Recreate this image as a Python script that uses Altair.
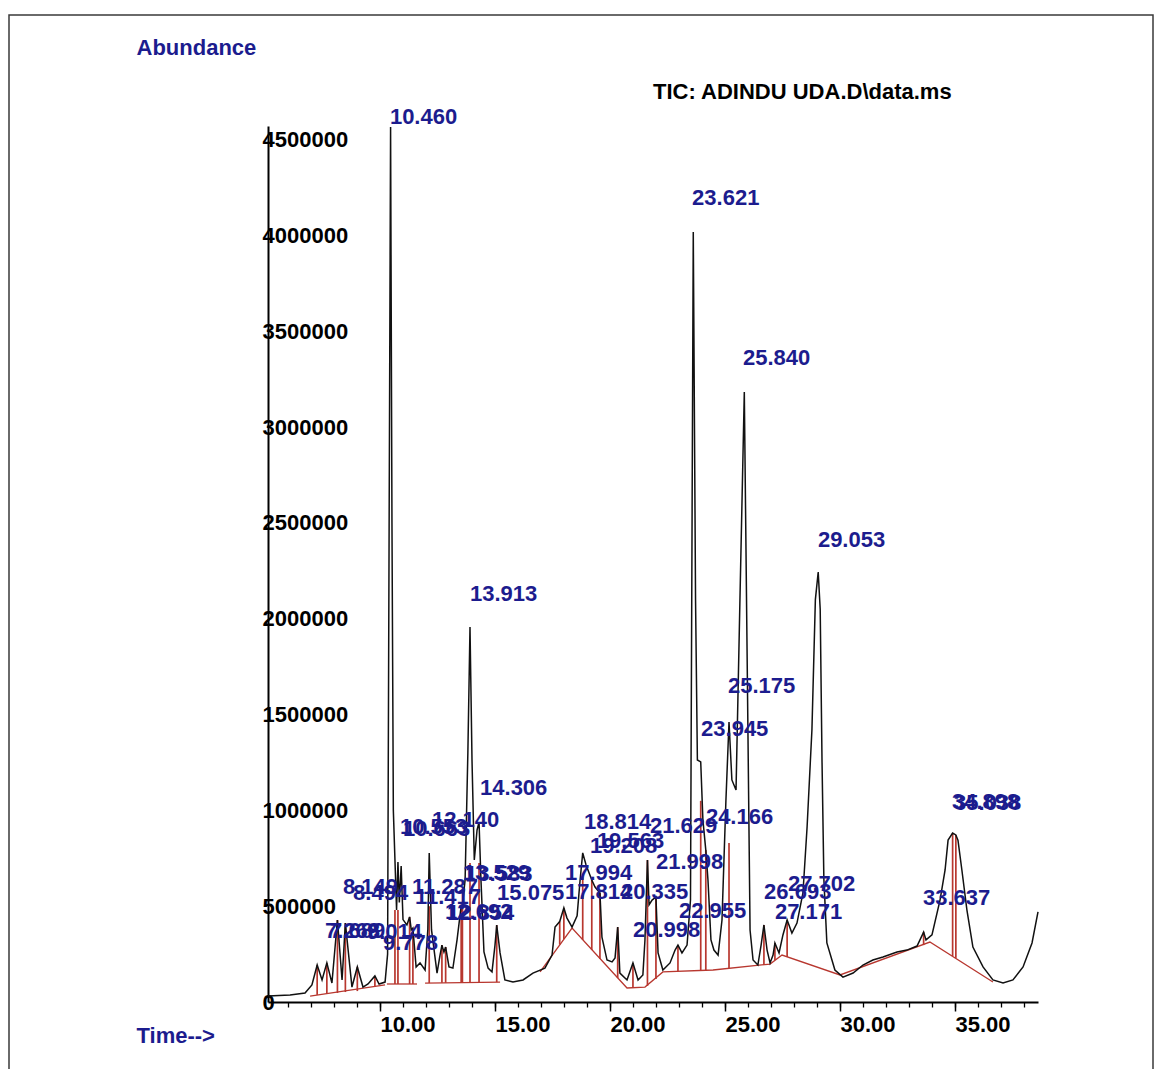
import altair as alt
import pandas as pd

# ---------------- data ----------------
trace_time = [5.13, 6.09, 6.74, 7.04, 7.268, 7.48, 7.689, 7.91, 8.149, 8.35, 8.494, 8.78,
              9.014, 9.26, 9.48, 9.778, 9.96, 10.22, 10.33, 10.40, 10.46, 10.52, 10.58,
              10.65, 10.72, 10.78, 10.84, 10.92, 11.00, 11.17, 11.287, 11.36, 11.43, 11.57,
              11.74, 11.96, 12.08, 12.14, 12.24, 12.48, 12.61, 12.692, 12.78, 12.854, 13.00,
              13.17, 13.35, 13.529, 13.583, 13.70, 13.82, 13.913, 14.00, 14.10, 14.22, 14.306,
              14.39, 14.52, 14.70, 14.87, 15.00, 15.075, 15.22, 15.43, 15.78, 16.22, 16.65,
              17.17, 17.48, 17.61, 17.814, 17.994, 18.13, 18.35, 18.57, 18.70, 18.814, 18.96,
              19.208, 19.35, 19.563, 19.65, 19.87, 20.09, 20.22, 20.335, 20.43, 20.74, 20.998,
              21.22, 21.43, 21.52, 21.629, 21.70, 21.83, 21.998, 22.09, 22.30, 22.61, 22.83,
              22.955, 23.13, 23.35, 23.50, 23.621, 23.72, 23.80, 23.945, 24.04, 24.166, 24.26,
              24.39, 24.52, 24.70, 24.87, 25.04, 25.175, 25.30, 25.48, 25.65, 25.84, 25.96,
              26.09, 26.22, 26.43, 26.57, 26.693, 26.83, 26.96, 27.09, 27.171, 27.35, 27.52,
              27.702, 27.91, 28.13, 28.39, 28.57, 28.78, 28.93, 29.053, 29.14, 29.22, 29.30,
              29.43, 29.78, 30.13, 30.57, 31.00, 31.43, 31.87, 32.48, 32.91, 33.35, 33.637,
              33.74, 34.00, 34.35, 34.57, 34.70, 34.898, 35.038, 35.13, 35.30, 35.52, 35.78,
              36.22, 36.65, 37.09, 37.52, 37.96, 38.35, 38.61]
trace_abund = [31000, 37000, 47000, 89000, 193000, 115000, 204000, 99000, 428000, 115000, 412000, 78000,
               183000, 78000, 94000, 136000, 94000, 104000, 250000, 2600000, 4567000, 2500000, 1000000,
               741000, 480000, 731000, 520000, 710000, 430000, 402000, 444000, 376000, 386000, 183000,
               204000, 167000, 380000, 778000, 376000, 151000, 245000, 297000, 261000, 287000, 183000,
               177000, 324000, 501000, 506000, 637000, 1300000, 1957000, 1263000, 741000, 898000, 939000,
               637000, 261000, 177000, 157000, 297000, 402000, 256000, 115000, 104000, 115000, 151000,
               177000, 245000, 391000, 420000, 491000, 438000, 391000, 450000, 637000, 778000, 715000,
               637000, 600000, 569000, 339000, 219000, 209000, 230000, 391000, 151000, 115000, 204000,
               115000, 141000, 324000, 741000, 507000, 532000, 548000, 256000, 167000, 204000, 271000,
               297000, 256000, 297000, 532000, 4019000, 2098000, 1263000, 1253000, 950000, 793000, 637000,
               324000, 271000, 245000, 428000, 1050000, 1461000, 1159000, 1106000, 2098000, 3184000, 1837000,
               376000, 219000, 193000, 297000, 402000, 271000, 204000, 245000, 308000, 256000, 350000,
               428000, 360000, 412000, 569000, 913000, 1420000, 2100000, 2244000, 2050000, 1250000, 640000,
               308000, 167000, 130000, 151000, 193000, 219000, 235000, 261000, 271000, 292000, 365000,
               324000, 350000, 532000, 689000, 845000, 882000, 872000, 845000, 689000, 480000, 287000,
               183000, 115000, 99000, 115000, 183000, 308000, 470000]

baseline_seg = ["a", "a", "b", "b", "c", "c",
                "d", "d", "d", "d", "d", "d", "d", "d", "d", "d", "d"]
baseline_time = [6.96, 10.22, 10.30, 11.61, 11.96, 15.22,
                 16.96, 18.35, 20.74, 21.52, 22.30, 24.48, 26.96, 27.48, 30.00, 33.91, 36.65]
baseline_abund = [31000, 89000, 94000, 94000, 99000, 104000,
                  157000, 386000, 73000, 78000, 157000, 167000, 198000, 245000, 141000, 313000, 104000]

peak_labels = ["7.268", "7.689", "8.149", "8.494", "9.014", "9.778", "10.460", "10.553", "10.663",
               "11.287", "11.417", "12.140", "12.692", "12.854", "13.529", "13.583", "13.913",
               "14.306", "15.075", "17.814", "17.994", "18.814", "19.208", "19.563", "20.335",
               "20.998", "21.629", "21.998", "22.955", "23.621", "23.945", "24.166", "25.175",
               "25.840", "26.693", "27.171", "27.702", "29.053", "33.637", "34.898", "35.038"]
peak_time = [7.268, 7.689, 8.149, 8.494, 9.014, 9.778, 10.46, 10.65, 10.78,
             11.287, 11.43, 12.14, 12.692, 12.854, 13.529, 13.583, 13.913,
             14.306, 15.075, 17.814, 17.994, 18.814, 19.208, 19.563, 20.335,
             20.998, 21.629, 21.998, 22.955, 23.621, 23.945, 24.166, 25.175,
             25.84, 26.693, 27.171, 27.702, 29.053, 33.637, 34.898, 35.038]
# top of the red drop line as seen in the picture (hidden inside the tallest peaks)
drop_top = [193000, 204000, 428000, 412000, 183000, 136000, 89000, 480000, 480000,
            444000, 386000, 500000, 297000, 287000, 501000, 506000, 725000,
            725000, 402000, 420000, 491000, 650000, 637000, 569000, 391000,
            204000, 741000, 548000, 297000, 167000, 1050000, 793000, 830000,
            183000, 402000, 308000, 428000, 177000, 365000, 882000, 872000]
peak_base = [37000, 42000, 47000, 52000, 57000, 78000, 89000, 94000, 94000,
             94000, 94000, 99000, 100000, 100000, 102000, 102000, 102000,
             103000, 104000, 300000, 329000, 324000, 271000, 224000, 125000,
             73000, 84000, 120000, 162000, 167000, 167000, 167000, 177000,
             183000, 193000, 219000, 235000, 177000, 297000, 240000, 230000]
label_time = [7.61, 7.83, 8.39, 8.83, 9.43, 10.13, 10.43, 10.87, 11.00,
              11.39, 11.52, 12.26, 12.83, 12.91, 13.61, 13.70, 13.91,
              14.35, 15.09, 18.04, 18.04, 18.87, 19.13, 19.43, 20.48,
              21.00, 21.74, 22.00, 23.00, 23.57, 23.96, 24.17, 25.13,
              25.78, 26.70, 27.17, 27.74, 29.04, 33.61, 34.87, 34.96]
label_abund = [371000, 371000, 600000, 569000, 365000, 308000, 4619000, 913000, 903000,
               600000, 548000, 950000, 470000, 464000, 673000, 668000, 2129000,
               1117000, 569000, 574000, 673000, 939000, 814000, 840000, 574000,
               376000, 919000, 731000, 475000, 4196000, 1425000, 966000, 1649000,
               3361000, 574000, 470000, 616000, 2411000, 543000, 1044000, 1038000]

x_ticks_major = [10, 15, 20, 25, 30, 35]
x_ticks_minor = list(range(6, 39))
y_ticks = [0, 500000, 1000000, 1500000, 2000000, 2500000, 3000000, 3500000, 4000000, 4500000]

title_text = "TIC: ADINDU UDA.D\\data.ms"

# ---------------- styling ----------------
NAVY = "#1c1c8e"
RED = "#b8372f"
FONT = "Liberation Sans"

trace_df = pd.DataFrame({"time": trace_time, "abundance": trace_abund})
base_df = pd.DataFrame({"seg": baseline_seg, "time": baseline_time, "abundance": baseline_abund})
peak_df = pd.DataFrame({"label": peak_labels, "time": peak_time, "top": drop_top,
                        "base": peak_base, "ltime": label_time, "labund": label_abund})
one_row = pd.DataFrame({"k": [0]})

x_scale = alt.Scale(domain=[5.13, 38.61], nice=False, zero=False)
y_scale = alt.Scale(domain=[0, 4572000], nice=False, zero=False)

major_x_axis = alt.Axis(
    values=x_ticks_major, format=".2f", orient="bottom",
    labelAlign="left", labelBaseline="top", labelPadding=3,
    labelFont=FONT, labelFontSize=22, labelFontWeight="bold", labelColor="black",
    labelFlush=False, labelOverlap=False, labelBound=False,
    tickSize=9, tickWidth=1.5, tickColor="black",
    domainColor="black", domainWidth=2, grid=False,
    title="Time-->", titleX=-132, titleY=33, titleAlign="left", titleBaseline="middle",
    titleAngle=0, titleColor=NAVY, titleFont=FONT, titleFontSize=22, titleFontWeight="bold",
)
minor_x_axis = alt.Axis(
    values=x_ticks_minor, orient="bottom", labels=False, domain=False, grid=False,
    tickSize=5, tickWidth=1.3, tickColor="black", title=None,
)
y_axis = alt.Axis(
    values=y_ticks, format="d", orient="left",
    labelAlign="left", labelBaseline="middle", labelPadding=6,
    labelFont=FONT, labelFontSize=22, labelFontWeight="bold", labelColor="black",
    labelOverlap=False, labelFlush=False, labelBound=False,
    ticks=True, tickSize=0, domainColor="black", domainWidth=2, grid=False,
    title="Abundance", titleX=-132, titleY=-79, titleAlign="left", titleBaseline="middle",
    titleAngle=0, titleColor=NAVY, titleFont=FONT, titleFontSize=22, titleFontWeight="bold",
)

frame = alt.Chart(one_row).mark_rect(
    fillOpacity=0, stroke="#3a3a3a", strokeWidth=1.5
).encode(x=alt.value(-259), x2=alt.value(885), y=alt.value(-111), y2=alt.value(960))

baselines = alt.Chart(base_df).mark_line(color=RED, strokeWidth=1.3).encode(
    x=alt.X("time:Q", scale=x_scale, axis=minor_x_axis),
    y=alt.Y("abundance:Q", scale=y_scale, axis=None),
    detail="seg:N",
)

drops = alt.Chart(peak_df).mark_rule(color=RED, strokeWidth=1.7).encode(
    x=alt.X("time:Q", scale=x_scale, axis=None),
    y=alt.Y("base:Q", scale=y_scale, axis=None),
    y2="top:Q",
)

trace = alt.Chart(trace_df).mark_line(color="#111111", strokeWidth=1.5).encode(
    x=alt.X("time:Q", scale=x_scale, axis=major_x_axis),
    y=alt.Y("abundance:Q", scale=y_scale, axis=y_axis),
)

labels = alt.Chart(peak_df).mark_text(
    align="left", baseline="middle", font=FONT, fontSize=22, fontWeight="bold", color=NAVY
).encode(
    x=alt.X("ltime:Q", scale=x_scale, axis=None),
    y=alt.Y("labund:Q", scale=y_scale, axis=None),
    text="label:N",
)

title = alt.Chart(one_row).mark_text(
    text=title_text, align="left", baseline="middle", font=FONT, fontSize=22,
    fontWeight="bold", color="black"
).encode(x=alt.value(385), y=alt.value(-34))

chart = alt.layer(frame, baselines, drops, trace, labels, title).resolve_axis(
    x="independent", y="independent"
).properties(
    width=770, height=876,
    autosize=alt.AutoSizeParams(type="none"),
    padding={"left": 260, "top": 118, "right": 116, "bottom": 70},
).configure(font=FONT).configure_view(strokeWidth=0)

chart.save("out.html", embed_options={"renderer": "svg", "actions": False})
